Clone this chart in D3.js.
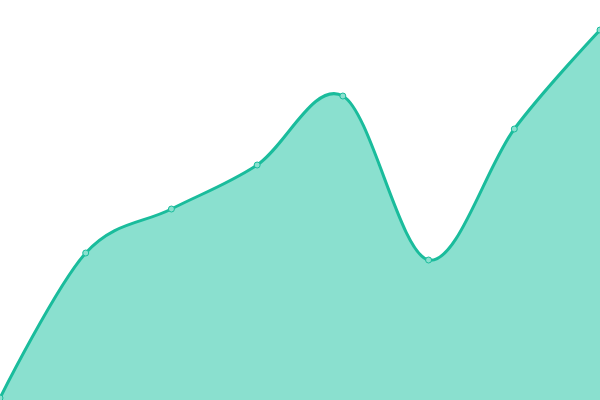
<!DOCTYPE html>
<html>
<head>
<meta charset="utf-8">
<script src="https://cdn.jsdelivr.net/npm/d3@7"></script>
<style>
  html, body { margin: 0; padding: 0; background: #fff; }
</style>
</head>
<body>
<div id="canvas"></div>
<script>
"use strict";

// data
let categories = [0, 1, 2, 3, 4, 5, 6, 7];
let values = [2, 147, 191, 235, 304, 140, 271, 370];

let svgWidth = 600;
let svgHeight = 400;

const svg = d3.select("#canvas")
  .append("svg")
  .attr("width", svgWidth)
  .attr("height", svgHeight);

const xScale = d3.scaleLinear()
  .domain([0, categories.length - 1])
  .range([0, svgWidth]);

const yScale = d3.scaleLinear()
  .domain([0, 400])
  .range([svgHeight, 0]);

const points = categories.map((c, i) => ({ x: c, y: values[i] }));

// filled area under the smooth curve
const area = d3.area()
  .x(d => xScale(d.x))
  .y0(yScale(0))
  .y1(d => yScale(d.y))
  .curve(d3.curveCardinal);

const line = d3.line()
  .x(d => xScale(d.x))
  .y(d => yScale(d.y))
  .curve(d3.curveCardinal);

svg.append("path")
  .datum(points)
  .attr("d", area)
  .attr("fill", "#8ae0cf");

svg.append("path")
  .datum(points)
  .attr("d", line)
  .attr("fill", "none")
  .attr("stroke", "#1abc9c")
  .attr("stroke-width", 3);

// small markers on each data point
svg.selectAll("circle.pt")
  .data(points)
  .enter()
  .append("circle")
  .classed("pt", true)
  .attr("cx", d => xScale(d.x))
  .attr("cy", d => yScale(d.y))
  .attr("r", 3)
  .attr("fill", "#8ae0cf")
  .attr("stroke", "#1abc9c")
  .attr("stroke-width", 1);
</script>
</body>
</html>
